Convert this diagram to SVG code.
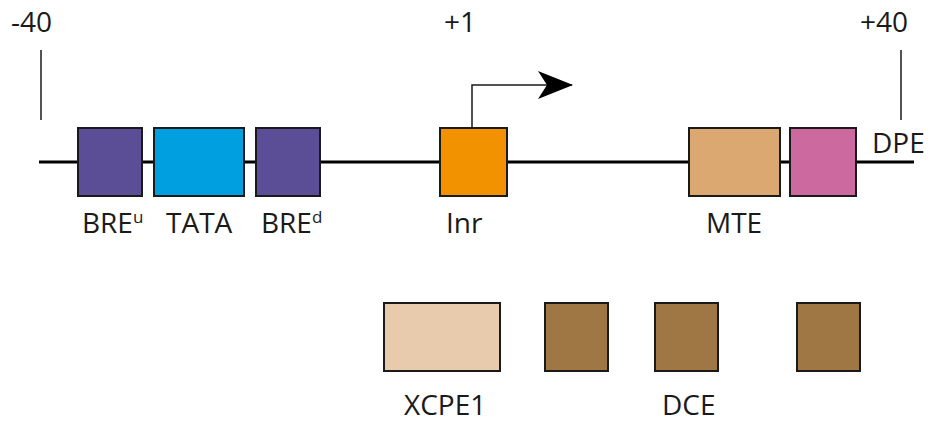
<svg xmlns="http://www.w3.org/2000/svg" width="930" height="421" viewBox="0 0 930 421">
<style>
.lbl{font-family:"Open Sans","Liberation Sans",sans-serif;font-size:28px;fill:#1a1a1a}
.box{stroke:#1a1a1a;stroke-width:2}
.thin{stroke:#1a1a1a;stroke-width:1.5;fill:none}
</style>
<defs>
<marker id="ah" markerWidth="36" markerHeight="30" refX="34" refY="14" markerUnits="userSpaceOnUse" orient="auto">
<path d="M0,0 L35,14 L0,28 L9,14 Z" fill="#000"/>
</marker>
</defs>
<rect width="930" height="421" fill="#fff"/>
<g id="connectors">
<line x1="39" y1="162" x2="914" y2="162" stroke="#000" stroke-width="3"/>
<line class="thin" x1="41" y1="50" x2="41" y2="120"/>
<line class="thin" x1="901" y1="50" x2="901" y2="120"/>
<path class="thin" d="M472,128 V85 H572" marker-end="url(#ah)"/>
</g>
<g id="pos-40"><text class="lbl" x="11" y="32">-40</text></g>
<g id="pos1"><text class="lbl" x="444" y="32">+1</text></g>
<g id="pos40"><text class="lbl" x="860" y="32">+40</text></g>
<g id="BREu"><rect class="box" x="78" y="128" width="64" height="68" fill="#5B4E96"/><text class="lbl" x="82" y="233">BRE<tspan font-size="17" dy="-10">u</tspan></text></g>
<g id="TATA"><rect class="box" x="154" y="128" width="90" height="68" fill="#009FE0"/><text class="lbl" x="166" y="233">TATA</text></g>
<g id="BREd"><rect class="box" x="256" y="128" width="64" height="68" fill="#5B4E96"/><text class="lbl" x="261" y="233">BRE<tspan font-size="17" dy="-10">d</tspan></text></g>
<g id="Inr"><rect class="box" x="440" y="128" width="67" height="68" fill="#F39200"/><text class="lbl" x="446" y="233">Inr</text></g>
<g id="MTE"><rect class="box" x="689" y="128" width="91" height="68" fill="#DBA872"/><text class="lbl" x="706" y="233">MTE</text></g>
<g id="DPE"><rect class="box" x="790" y="128" width="66" height="68" fill="#CC6A9F"/><text class="lbl" x="872" y="153">DPE</text></g>
<g id="XCPE1"><rect class="box" x="384" y="303" width="116" height="68" fill="#E8CBAD"/><text class="lbl" x="404" y="415">XCPE1</text></g>
<g id="DCE">
<rect class="box" x="545" y="303" width="63" height="68" fill="#9F7744"/>
<rect class="box" x="655" y="303" width="63" height="68" fill="#9F7744"/>
<rect class="box" x="797" y="303" width="63" height="68" fill="#9F7744"/>
<text class="lbl" x="662" y="415">DCE</text>
</g>
</svg>
